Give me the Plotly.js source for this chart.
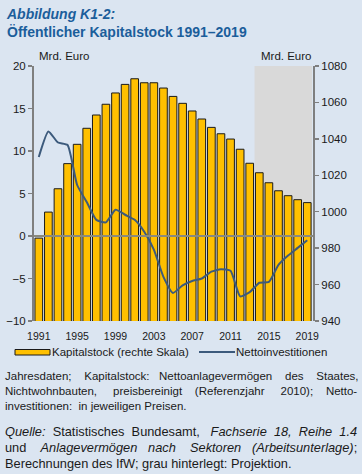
<!DOCTYPE html>
<html>
<head>
<meta charset="utf-8">
<script src="https://cdn.plot.ly/plotly-3.0.1.min.js"></script>
<style>
html,body{margin:0;padding:0;background:#dbe5f1;}
#chart{width:362px;height:474px;}
</style>
</head>
<body>
<div id="chart"></div>
<script>
// ---- Data ----
const years = [1991,1992,1993,1994,1995,1996,1997,1998,1999,2000,2001,2002,2003,2004,2005,2006,2007,2008,2009,2010,2011,2012,2013,2014,2015,2016,2017,2018,2019];
const kapitalstock = [985.5,999.8,1012.6,1026.4,1037.0,1045.8,1053.1,1059.0,1065.2,1069.9,1073.0,1070.8,1070.8,1067.9,1063.3,1059.5,1055.3,1050.9,1046.3,1042.8,1039.9,1034.3,1026.6,1021.4,1015.9,1011.5,1008.8,1006.6,1005.0];
const nettoinvestitionen = [9.3,12.3,11.0,10.7,6.0,4.0,1.9,1.6,3.1,2.5,1.9,0.5,-1.6,-4.8,-6.7,-5.8,-5.3,-5.0,-4.2,-3.9,-4.1,-7.1,-6.6,-5.5,-5.4,-3.4,-2.3,-1.4,-0.5];
const xTickVals = [1991,1995,1999,2003,2007,2011,2015,2019];
const projectionStart = 2013.5;
const projectionEnd = 2019.5;

// ---- Geometry helpers ----
const W = 362, H = 474;
const M = {l:34, r:49, t:66, b:153};
const PW = W - M.l - M.r, PH = H - M.t - M.b;
const px = x => (x - M.l) / PW;
const py = y => (H - M.b - y) / PH;

const FONT = '"Liberation Sans", Arial, sans-serif';
const TXT = '#1a1a1a';
const LINEC = '#3c5a7c';
const BARC = '#ffc000';

// canvas text measuring for justified footnotes
const cv = document.createElement('canvas').getContext('2d');
function meas(t, size, it){ cv.font = (it?'italic ':'') + size + 'px "Liberation Sans"'; return cv.measureText(t).width; }
function justify(words, size, x0, x1){
  let sum = 0; words.forEach(w => sum += meas(w[0], size, w[1]));
  const sp = meas(' ', size, false);
  const gaps = words.length - 1;
  const extra = (x1 - x0) - sum;
  let out = '', acc = 0, used = 0;
  words.forEach((w, i) => {
    out += w[1] ? '<i>' + w[0] + '</i>' : w[0];
    if (i < gaps){
      acc += extra / gaps;
      let n = Math.max(1, Math.round((acc - used) / sp));
      used += n * sp;
      out += '\u00A0'.repeat(n);
    }
  });
  return out;
}

const footSize1 = 11.5, footSize2 = 12.8;
const fx0 = 4, fx1 = 357;
const semi = meas(';', footSize2, false);
const foot = [
  {t: justify([['Jahresdaten;',0],['Kapitalstock:',0],['Nettoanlagevermögen',0],['des',0],['Staates,',0]], footSize1, fx0, fx1), y: 376, s: footSize1},
  {t: justify([['Nichtwohnbauten,',0],['preisbereinigt',0],['(Referenzjahr',0],['2010);',0],['Netto-',0]], footSize1, fx0, fx1), y: 391, s: footSize1},
  {t: 'investitionen:\u00A0\u00A0in jeweiligen Preisen.', y: 406, s: footSize1},
  {t: justify([['Quelle:',1],['Statistisches',0],['Bundesamt,',0],['Fachserie',1],['18,',1],['Reihe',1],['1.4',1]], footSize2, fx0, fx1), y: 431, s: footSize2},
  {t: justify([['und',0],['Anlagevermögen',1],['nach',1],['Sektoren',1],['(Arbeitsunterlage)',1]], footSize2, fx0, fx1 - semi) + ';', y: 447, s: footSize2},
  {t: 'Berechnungen des IfW; grau hinterlegt: Projektion.', y: 463, s: footSize2}
];

const data = [
  {
    type: 'bar', x: years, y: kapitalstock, yaxis: 'y', xaxis: 'x',
    name: 'Kapitalstock (rechte Skala)', width: 0.8,
    marker: {color: BARC, line: {color: '#1a1a1a', width: 1}},
    showlegend: false, hoverinfo: 'skip'
  },
  {
    type: 'scatter', mode: 'lines', x: years, y: nettoinvestitionen, yaxis: 'y2', xaxis: 'x',
    name: 'Nettoinvestitionen',
    line: {color: LINEC, width: 2, shape: 'spline', smoothing: 0.5},
    showlegend: false, hoverinfo: 'skip'
  }
];

const annotations = [
  {text: 'Mrd. Euro', xref: 'paper', yref: 'paper', x: px(37), y: py(56), xanchor: 'left', yanchor: 'middle', showarrow: false, font: {family: FONT, size: 11.5, color: TXT}},
  {text: 'Mrd. Euro', xref: 'paper', yref: 'paper', x: px(314), y: py(56), xanchor: 'right', yanchor: 'middle', showarrow: false, font: {family: FONT, size: 11.5, color: TXT}},
  {text: 'Kapitalstock (rechte Skala)', xref: 'paper', yref: 'paper', x: px(50), y: py(352), xanchor: 'left', yanchor: 'middle', showarrow: false, font: {family: FONT, size: 11.5, color: TXT}},
  {text: 'Nettoinvestitionen', xref: 'paper', yref: 'paper', x: px(234), y: py(352), xanchor: 'left', yanchor: 'middle', showarrow: false, font: {family: FONT, size: 11.5, color: TXT}}
];
foot.forEach(f => annotations.push({
  text: f.t, xref: 'paper', yref: 'paper', x: px(fx0), y: py(f.y), xanchor: 'left', yanchor: 'middle',
  showarrow: false, borderpad: 0, font: {family: FONT, size: f.s, color: TXT}
}));

const shapes = [
  {type: 'rect', xref: 'x', yref: 'paper', x0: projectionStart, x1: projectionEnd, y0: 0, y1: 1, fillcolor: '#d9d9d9', line: {width: 0}, layer: 'below'},
  {type: 'line', xref: 'paper', yref: 'y2', x0: 0, x1: 1, y0: 0, y1: 0, line: {color: '#8a8a7e', width: 2}, layer: 'above'},
  {type: 'rect', xref: 'paper', yref: 'paper', x0: px(15), x1: px(50), y0: py(355), y1: py(349.5), fillcolor: BARC, line: {color: '#1a1a1a', width: 1}},
  {type: 'line', xref: 'paper', yref: 'paper', x0: px(199), x1: px(235), y0: py(352), y1: py(352), line: {color: LINEC, width: 2}}
];

const axisStyle = {
  showgrid: false, zeroline: false, showline: true, linecolor: '#7f7f7f', linewidth: 2,
  ticks: 'outside', ticklen: 4, tickwidth: 1.5, tickcolor: '#7f7f7f',
  tickfont: {family: FONT, size: 11.5, color: TXT}, fixedrange: true
};

const layout = {
  width: W, height: H,
  margin: M,
  paper_bgcolor: '#dbe5f1', plot_bgcolor: '#dbe5f1',
  showlegend: false,
  bargap: 0.2,
  title: {
    text: '<b><i>Abbildung K1-2:</i></b><br><b>Öffentlicher Kapitalstock 1991–2019</b>',
    font: {family: FONT, size: 14, color: '#1b5e9b'},
    xref: 'container', yref: 'container', x: 7/W, xanchor: 'left', y: 1 - 19/H, yanchor: 'top'
  },
  xaxis: {
    range: [1990.5, 2019.6], tickmode: 'array', tickvals: xTickVals, ticktext: xTickVals.map(String),
    showgrid: false, zeroline: false, showline: false, ticks: '', ticklabelstandoff: 7,
    tickfont: {family: FONT, size: 10.5, color: TXT}, fixedrange: true
  },
  yaxis: Object.assign({}, axisStyle, {range: [940, 1080], dtick: 20, tick0: 940, side: 'right'}),
  yaxis2: Object.assign({}, axisStyle, {range: [-10, 20], dtick: 5, tick0: -10, side: 'left', overlaying: 'y'}),
  annotations: annotations,
  shapes: shapes
};

Plotly.newPlot('chart', data, layout, {staticPlot: true, displayModeBar: false});
</script>
</body>
</html>
